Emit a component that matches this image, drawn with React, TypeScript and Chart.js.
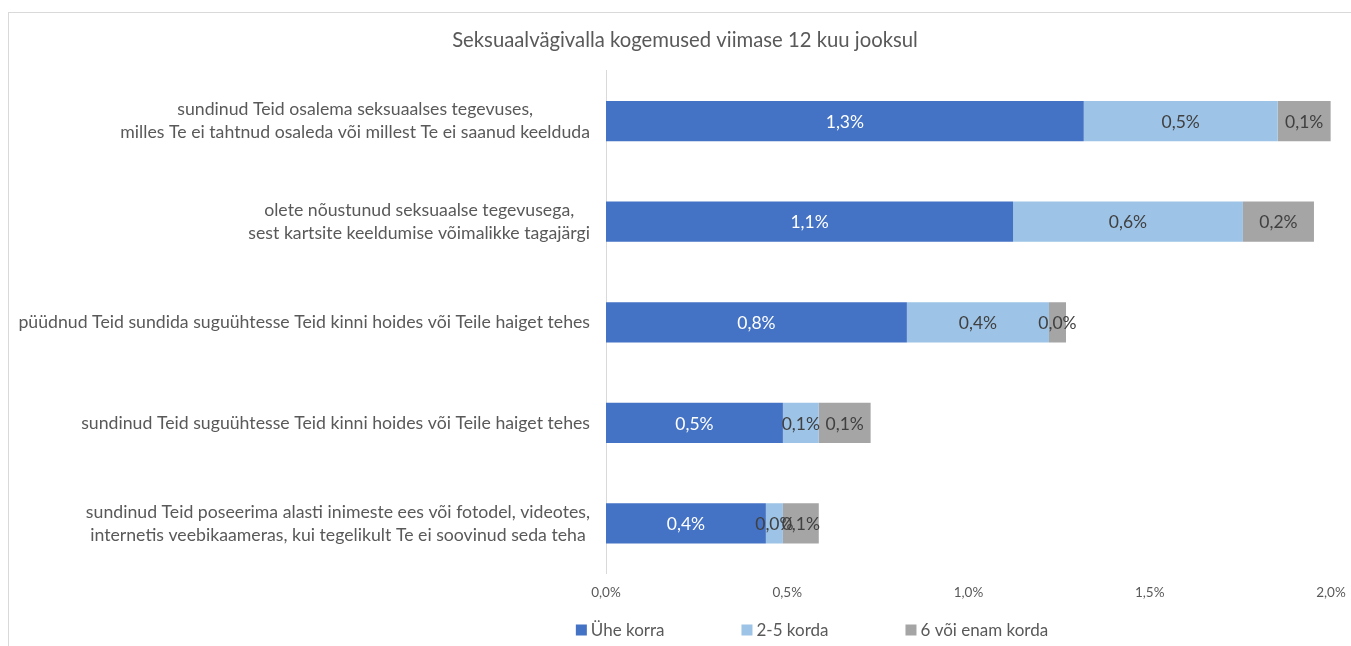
import React, { useEffect, useRef } from "react";
import { Chart, registerables } from "chart.js";

Chart.register(...registerables);

const chartTitle = "Seksuaalvägivalla kogemused viimase 12 kuu jooksul";
const categories: string[][] = [
  ["sundinud Teid osalema seksuaalses tegevuses,", "milles Te ei tahtnud osaleda või millest Te ei saanud keelduda"],
  ["olete nõustunud seksuaalse tegevusega,", "sest kartsite keeldumise võimalikke tagajärgi"],
  ["püüdnud Teid sundida suguühtesse Teid kinni hoides või Teile haiget tehes"],
  ["sundinud Teid suguühtesse Teid kinni hoides või Teile haiget tehes"],
  ["sundinud Teid poseerima alasti inimeste ees või fotodel, videotes,", "internetis veebikaameras, kui tegelikult Te ei soovinud seda teha"],
];
const seriesNames = ["Ühe korra", "2-5 korda", "6 või enam korda"];
const onceValues = [1.318, 1.123, 0.83, 0.488, 0.441];
const twoToFiveValues = [0.535, 0.634, 0.392, 0.099, 0.047];
const sixPlusValues = [0.146, 0.196, 0.047, 0.143, 0.099];
const xTickValues = [0, 0.5, 1.0, 1.5, 2.0];
const seriesColors = ["#4472C4", "#9DC3E6", "#A5A5A5"];

const FONT = "Lato";
const TEXT = "#595959";
const fmt = (v: number) => v.toFixed(1).replace(".", ",") + "%";

const titlePlugin = {
  id: "customTitle",
  afterDraw(chart: any) {
    const ctx = chart.ctx;
    ctx.save();
    ctx.font = `20.3px ${FONT}`;
    ctx.fillStyle = TEXT;
    ctx.textAlign = "center";
    ctx.textBaseline = "middle";
    ctx.fillText(chartTitle, 676, 27);
    ctx.restore();
  },
};

const catLabelPlugin = {
  id: "catLabels",
  afterDraw(chart: any) {
    const ys = chart.scales.y;
    const ctx = chart.ctx;
    ctx.save();
    ctx.font = `17.7px ${FONT}`;
    ctx.fillStyle = TEXT;
    ctx.textAlign = "center";
    ctx.textBaseline = "middle";
    const right = chart.chartArea.left - 16;
    const lh = 23;
    categories.forEach((lines, i) => {
      const cy = ys.getPixelForTick(i);
      const w = Math.max(...lines.map((l) => ctx.measureText(l).width));
      const cx = right - w / 2;
      lines.forEach((l, j) => ctx.fillText(l, cx, cy + (j - (lines.length - 1) / 2) * lh));
    });
    ctx.restore();
  },
};

const dataLabelPlugin = {
  id: "dataLabels",
  afterDatasetsDraw(chart: any) {
    const ctx = chart.ctx;
    ctx.save();
    ctx.font = `17.5px ${FONT}`;
    ctx.textAlign = "center";
    ctx.textBaseline = "middle";
    chart.data.datasets.forEach((ds: any, di: number) => {
      const meta = chart.getDatasetMeta(di);
      meta.data.forEach((el: any, i: number) => {
        const { x, y, base } = el.getProps(["x", "y", "base"], true);
        ctx.fillStyle = di === 0 ? "#FFFFFF" : "#404040";
        ctx.fillText(fmt(ds.data[i]), (x + base) / 2, y + 1);
      });
    });
    ctx.restore();
  },
};

const legendPlugin = {
  id: "customLegend",
  afterDraw(chart: any) {
    const ctx = chart.ctx;
    ctx.save();
    ctx.font = `17px ${FONT}`;
    ctx.textBaseline = "middle";
    ctx.textAlign = "left";
    const box = 11;
    const gap = 4;
    const itemGap = 77;
    const widths = seriesNames.map((n) => box + gap + ctx.measureText(n).width);
    const total = widths.reduce((a, b) => a + b, 0) + itemGap * (widths.length - 1);
    const centerX = 803;
    const cy = 617;
    let x = centerX - total / 2;
    seriesNames.forEach((n, i) => {
      ctx.fillStyle = seriesColors[i];
      ctx.fillRect(x, cy - box / 2, box, box);
      ctx.fillStyle = TEXT;
      ctx.fillText(n, x + box + gap, cy + 1);
      x += widths[i] + itemGap;
    });
    ctx.restore();
  },
};

export default function App() {
  const ref = useRef<HTMLCanvasElement | null>(null);
  useEffect(() => {
    if (!ref.current) return;
    const chart = new Chart(ref.current, {
      type: "bar",
      data: {
        labels: categories as any,
        datasets: [onceValues, twoToFiveValues, sixPlusValues].map((d, i) => ({
          label: seriesNames[i],
          data: d,
          backgroundColor: seriesColors[i],
          borderWidth: 0,
          barPercentage: 0.4,
          categoryPercentage: 1,
        })),
      },
      options: {
        indexAxis: "y",
        responsive: false,
        animation: false,
        layout: { padding: { left: 0, right: 20, top: 57.75, bottom: 34 } },
        plugins: {
          legend: { display: false },
          tooltip: { enabled: false },
          title: { display: false },
        },
        scales: {
          x: {
            stacked: true,
            min: 0,
            max: 2,
            afterBuildTicks: (s: any) => {
              s.ticks = xTickValues.map((v) => ({ value: v }));
            },
            afterFit: (s: any) => {
              s.paddingLeft = 0;
              s.paddingRight = 0;
            },
            grid: { display: false, drawTicks: false },
            border: { display: false },
            ticks: {
              color: TEXT,
              font: { family: FONT, size: 13.5 },
              padding: 11,
              callback: (v: any) => fmt(Number(v)),
            },
          },
          y: {
            stacked: true,
            grid: { display: false, drawTicks: false },
            border: { display: true, color: "#D9D9D9", width: 1 },
            ticks: { display: false },
            afterFit: (s: any) => {
              s.width = 597;
            },
          },
        },
      },
      plugins: [dataLabelPlugin, catLabelPlugin, legendPlugin, titlePlugin],
    });
    return () => chart.destroy();
  }, []);
  return (
    <div
      style={{
        position: "absolute",
        left: 8,
        top: 12,
        width: 1343,
        height: 634,
        boxSizing: "border-box",
        borderLeft: "1px solid #D9D9D9",
        borderTop: "1px solid #D9D9D9",
        background: "#FFFFFF",
      }}
    >
      <canvas ref={ref} width={1342} height={633} style={{ display: "block" }} />
    </div>
  );
}
